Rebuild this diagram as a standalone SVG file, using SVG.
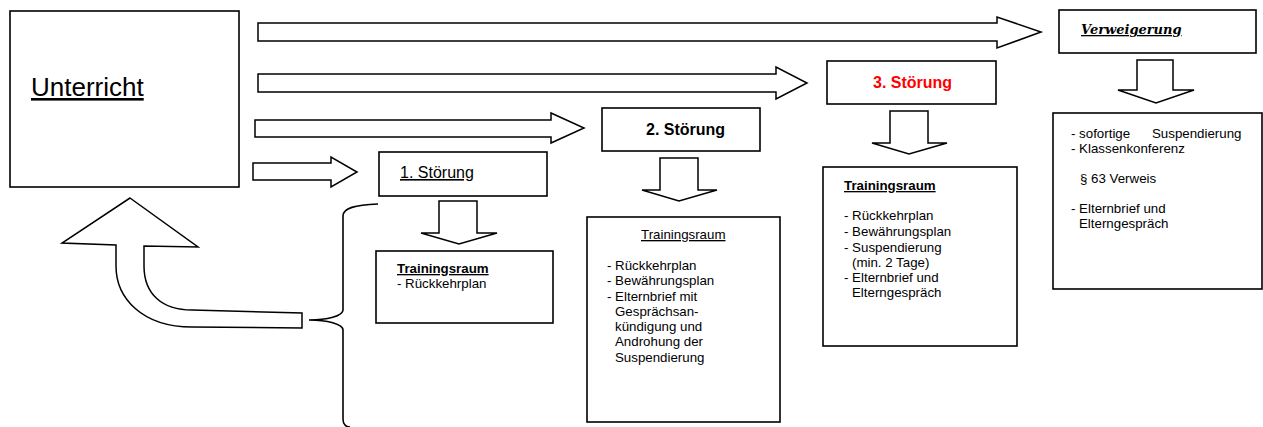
<svg xmlns="http://www.w3.org/2000/svg" width="1263" height="427" viewBox="0 0 1263 427">
<style>
.box{fill:#fff;stroke:#000;stroke-width:1.6}
.arr{fill:#fff;stroke:#000;stroke-width:1.5;stroke-linejoin:miter}
.t{font-family:"Liberation Sans",Arial,sans-serif;font-size:13.3px;fill:#000}
.h{font-family:"Liberation Sans",Arial,sans-serif;font-size:16px;fill:#000}
.b{font-weight:bold}
.u{text-decoration:underline}
</style>
<rect width="1263" height="427" fill="#fff"/>
<g id="connectors">
<path class="arr" d="M258,23 L997,23 L997,17 L1041,32 L997,48 L997,41 L258,41 Z"/>
<path class="arr" d="M258,74 L776,74 L776,67 L807,83 L776,99 L776,92 L258,92 Z"/>
<path class="arr" d="M255,120 L551,120 L551,113 L584,128 L551,143 L551,137 L255,137 Z"/>
<path class="arr" d="M253,163 L331,163 L331,157 L357,172 L331,187 L331,180 L253,180 Z"/>
<path class="arr" d="M439,201 L477,201 L477,233 L497,233 L459,244 L421,233 L439,233 Z"/>
<path class="arr" d="M660,158 L698,158 L698,190 L717,190 L679,201 L642,190 L660,190 Z"/>
<path class="arr" d="M890,111 L928,111 L928,143 L947,143 L909,154 L872,143 L890,143 Z"/>
<path class="arr" d="M1137,60 L1173,60 L1173,90 L1194,90 L1156,103 L1118,90 L1137,90 Z"/>
<path class="arr" d="M130,198 L198,247 L144,246 L144,266 C144,294 162,310 192,310 L302,313 L302,328 L192,327 C142,327 116,298 116,266 L116,245 L62,243 Z"/>
<path fill="none" stroke="#000" stroke-width="1.6" d="M378,204 C355,205 343,208 343,216 L343,310 C343,316 327,320 309,320 C327,320 343,324 343,330 L343,419 C343,424 346,427 350,427"/>
</g>
<g id="unterricht">
<rect class="box" x="10" y="11" width="229" height="176"/>
<text class="u" x="31" y="96" font-family="Liberation Sans, Arial, sans-serif" font-size="26">Unterricht</text>
</g>
<g id="stoerung1">
<rect class="box" x="379" y="152" width="168" height="44"/>
<text class="h u" x="400" y="178">1. Störung</text>
</g>
<g id="stoerung2">
<rect class="box" x="602" y="108" width="158" height="43"/>
<text class="h b" x="646" y="135">2. Störung</text>
</g>
<g id="stoerung3">
<rect class="box" x="827" y="61" width="169" height="43"/>
<text class="h b" x="873" y="88" style="fill:#ff0000">3. Störung</text>
</g>
<g id="verweigerung">
<rect class="box" x="1059" y="10" width="197" height="43"/>
<text x="1081" y="34" font-family="DejaVu Serif, serif" font-size="13" font-weight="bold" font-style="italic" text-decoration="underline">Verweigerung</text>
</g>
<g id="training1">
<rect class="box" x="376" y="251" width="177" height="72"/>
<text class="t b u" x="397" y="273">Trainingsraum</text>
<text class="t" x="397" y="288">- Rückkehrplan</text>
</g>
<g id="training2">
<rect class="box" x="587" y="217" width="193" height="205"/>
<text class="t u" x="641" y="239">Trainingsraum</text>
<text class="t" x="607" y="270">- Rückkehrplan</text>
<text class="t" x="607" y="285">- Bewährungsplan</text>
<text class="t" x="607" y="301">- Elternbrief mit</text>
<text class="t" x="615" y="316">Gesprächsan-</text>
<text class="t" x="615" y="331">kündigung und</text>
<text class="t" x="615" y="346">Androhung der</text>
<text class="t" x="615" y="362">Suspendierung</text>
</g>
<g id="training3">
<rect class="box" x="823" y="167" width="194" height="179"/>
<text class="t b u" x="844" y="190">Trainingsraum</text>
<text class="t" x="844" y="220">- Rückkehrplan</text>
<text class="t" x="844" y="236">- Bewährungsplan</text>
<text class="t" x="844" y="252">- Suspendierung</text>
<text class="t" x="852" y="267">(min. 2 Tage)</text>
<text class="t" x="844" y="282">- Elternbrief und</text>
<text class="t" x="852" y="297">Elterngespräch</text>
</g>
<g id="massnahmen">
<rect class="box" x="1053" y="113" width="209" height="176"/>
<text class="t" x="1071" y="138">- sofortige</text>
<text class="t" x="1152" y="138">Suspendierung</text>
<text class="t" x="1071" y="153">- Klassenkonferenz</text>
<text class="t" x="1080" y="183">§ 63 Verweis</text>
<text class="t" x="1071" y="213">- Elternbrief und</text>
<text class="t" x="1079" y="228">Elterngespräch</text>
</g>
</svg>
